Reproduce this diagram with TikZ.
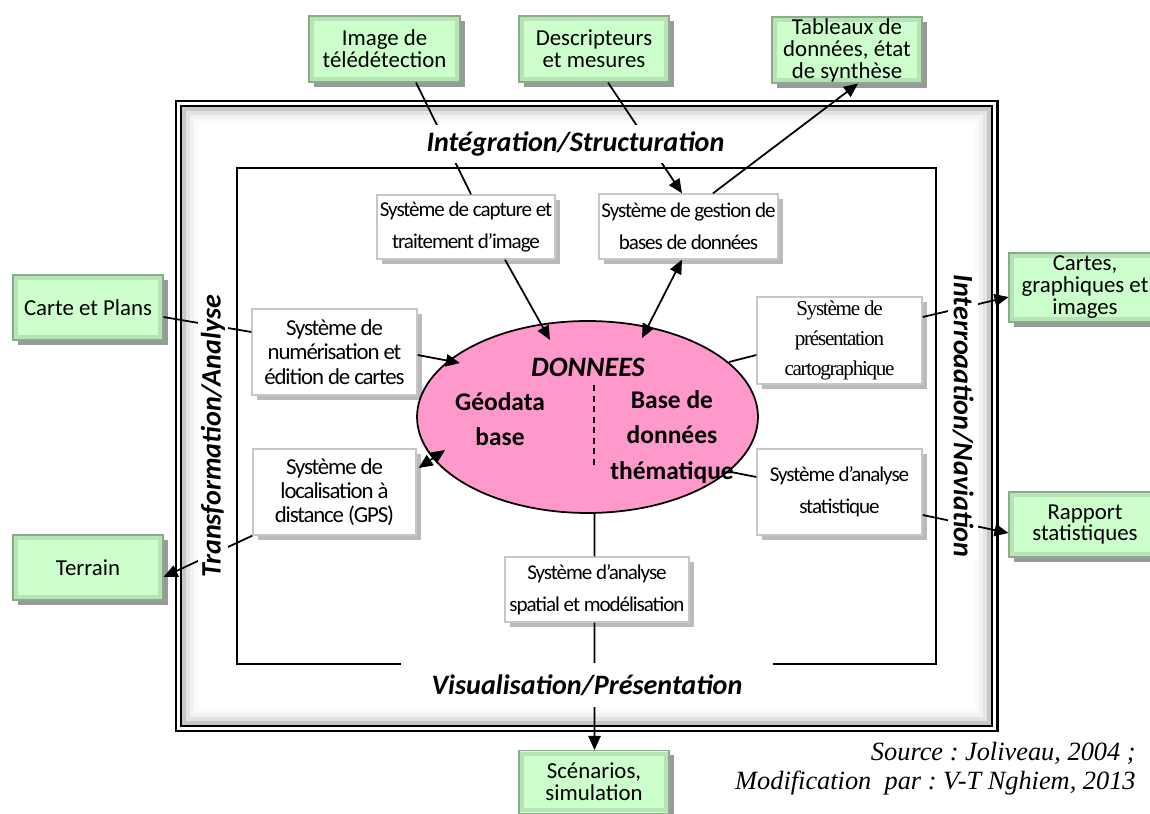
\documentclass[tikz,border=0pt]{standalone}
\usepackage{fontspec}
\setmainfont{Carlito}
\newfontfamily\condfont[LetterSpace=-5]{Carlito}
\newfontfamily\timesfont{Liberation Serif}
\newfontfamily\timescond[LetterSpace=-6]{Liberation Serif}
\usetikzlibrary{shapes.geometric,arrows.meta,shadows,calc}
\definecolor{pinkdata}{RGB}{255,153,204}
\definecolor{gface}{RGB}{204,255,204}
\definecolor{gmid}{RGB}{182,228,182}
\definecolor{gedge}{RGB}{140,170,140}
\frenchspacing

\begin{document}
\begin{tikzpicture}[x=0.02cm,y=-0.02cm,
  extbox/.style={rectangle, align=center, inner sep=0pt, fill=gface, draw=gedge, line width=0.6pt,
    font=\fontsize{13}{12.5}\selectfont,
    drop shadow={shadow xshift=2.8pt,shadow yshift=-2.8pt,fill=black!40,opacity=1},
    path picture={
      \fill[gmid] ([shift={(0.8pt,0.8pt)}]path picture bounding box.south west) rectangle ([shift={(-0.8pt,-0.8pt)}]path picture bounding box.north east);
      \fill[gface] ([shift={(3pt,3pt)}]path picture bounding box.south west) rectangle ([shift={(-3pt,-3pt)}]path picture bounding box.north east);
    }},
  sysbox/.style={rectangle, align=center, inner sep=0pt, fill=white, draw=black!22, line width=0.8pt,
    drop shadow={shadow xshift=2.8pt,shadow yshift=-2.8pt,fill=black!27,opacity=1}},
  axe/.style={fill=white, inner sep=0pt, font=\fontsize{16}{18}\selectfont\bfseries\itshape},
  lien/.style={line width=1pt},
  fleche/.style={lien, -{Triangle[length=8pt,width=7pt]}},
  bifleche/.style={lien, {Triangle[length=8pt,width=7pt]}-{Triangle[length=8pt,width=7pt]}}
]
  \useasboundingbox (0,0) rectangle (1150,814);
  \clip (0,0) rectangle (1150,814);

  % cadres
  \draw[black!22, line width=2pt] (184,109) rectangle (989,723);
  \draw[black!11, line width=2pt] (188,113) rectangle (985,719);
  \draw[black!5, line width=2pt] (192,117) rectangle (981,715);
  \draw[black!2, line width=2pt] (196,121) rectangle (977,711);
  \draw[line width=1.7pt] (176,101) rectangle (997,731);
  \draw[line width=1.1pt] (181,106) rectangle (992,726);
  \draw[line width=1pt] (237,168) rectangle (936,664);

  % sources et sorties
  \node[extbox, minimum width=3.02cm, minimum height=1.32cm] (img) at (384.5,49) {Image de\\télédétection};
  \node[extbox, minimum width=3cm, minimum height=1.32cm] (desc) at (594,49) {Descripteurs\\et mesures};
  \node[extbox, minimum width=3cm, minimum height=1.32cm] (tab) at (847,50) {Tableaux de\\données, état\\de synthèse};
  \node[extbox, minimum width=3cm, minimum height=1.3cm] (carte) at (88,307.5) {Carte et Plans};
  \node[extbox, minimum width=3cm, minimum height=1.3cm] (terrain) at (88,567.5) {Terrain};
  \node[extbox, minimum width=3.04cm, minimum height=1.38cm] (cartes) at (1085,287.5) {Cartes,\\graphiques et\\images};
  \node[extbox, minimum width=3.04cm, minimum height=1.3cm] (rapport) at (1085,524.5) {Rapport\\statistiques};
  \node[extbox, minimum width=3cm, minimum height=1.26cm] (scen) at (594,782) {Scénarios,\\simulation};

  % systemes
  \node[sysbox, minimum width=3.56cm, minimum height=1.28cm, font=\condfont\fontsize{12}{18.2}\selectfont] (cap) at (466,227) {Système de capture et\\traitement d’image};
  \node[sysbox, minimum width=3.58cm, minimum height=1.3cm, font=\condfont\fontsize{12}{18.2}\selectfont] (gest) at (688.5,226.5) {Système de gestion de\\bases de données};
  \node[sysbox, minimum width=3.3cm, minimum height=1.72cm, font=\condfont\fontsize{13}{13.8}\selectfont] (num) at (334.5,352) {Système de\\numérisation et\\édition de cartes};
  \node[sysbox, minimum width=3.26cm, minimum height=1.72cm, font=\condfont\fontsize{13}{13.6}\selectfont] (gps) at (334.5,492) {Système de\\localisation à\\distance (GPS)};
  \node[sysbox, minimum width=3.3cm, minimum height=1.74cm, font=\timescond\fontsize{12}{17}\selectfont] (pres) at (839.5,340.5) {Système de\\présentation\\cartographique};
  \node[sysbox, minimum width=3.3cm, minimum height=1.72cm, font=\condfont\fontsize{12}{18.2}\selectfont] (stat) at (839.5,492) {Système d’analyse\\statistique};
  \node[sysbox, minimum width=3.68cm, minimum height=1.3cm, font=\condfont\fontsize{12}{18.2}\selectfont] (spat) at (597,589.5) {Système d’analyse\\spatial et modélisation};

  % donnees
  \node[ellipse, draw, fill=pinkdata, line width=1pt, inner sep=0pt, minimum width=6.82cm, minimum height=3.84cm] (data) at (587.5,417) {};
  \node[font=\fontsize{16}{18}\selectfont\bfseries\itshape] (donnees) at (588,367) {DONNEES};
  \node[align=center, font=\fontsize{14.5}{20}\selectfont\bfseries] (geo) at (500,419.5) {Géodata\\base};
  \node[align=center, font=\fontsize{14.5}{20}\selectfont\bfseries] (bdt) at (672,437) {Base de\\données\\thématique};
  \draw[lien, dash pattern=on 3.5pt off 2.5pt] ($(data.center)+(6.5,-32)$) -- ($(data.center)+(6.5,51)$);

  % liens
  \draw[lien] ($(img.south)+(31.5,0)$) -- ($(cap.north)+(5,0)$);
  \draw[fleche] ($(desc.south)+(14,0)$) -- ($(gest.north)+(-6.5,0)$);
  \draw[fleche] ($(gest.north)+(24.5,0)$) -- ($(tab.south)+(11,0)$);
  \draw[fleche] ($(cap.south)+(39,0)$) -- ($(data.center)+(-37.5,-77)$);
  \draw[bifleche] ($(gest.south)+(-6.5,0)$) -- ($(data.center)+(54.5,-79)$);
  \draw[fleche] ($(num.east)+(0,3)$) -- ($(data.center)+(-127.5,-54)$);
  \draw[lien] ($(carte.east)+(0,9.5)$) -- ($(num.west)+(0,-20)$);
  \draw[bifleche] ($(gps.east)+(2,-24)$) -- ($(data.center)+(-142.5,33)$);
  \draw[fleche] (gps.south west) -- ($(terrain.east)+(0,9.5)$);
  \draw[lien] ($(data.center)+(141.5,-55)$) -- ($(pres.west)+(0,14.5)$);
  \draw[fleche] ($(pres.east)+(0,-23.5)$) -- ($(cartes.west)+(0,9.5)$);
  \draw[lien] ($(data.center)+(143.5,55)$) -- ($(stat.west)+(0,-15)$);
  \draw[fleche] ($(stat.east)+(0,23)$) -- ($(rapport.west)+(0,8.5)$);
  \draw[lien] ($(data.center)+(7,96)$) -- ($(spat.north)+(-2.5,0)$);
  \draw[fleche] ($(spat.south)+(-2.5,0)$) -- ($(scen.north)+(0.5,0)$);

  % axes
  \node[axe, minimum height=0.76cm] (integ) at (575.5,144) {Intégration/Structuration};
  \node[axe, minimum width=7.44cm, minimum height=0.9cm] (visu) at (587,685) {Visualisation/Présentation};
  \node[axe, rotate=90, minimum height=0.6cm] (transfo) at (213,436) {Transformation/Analyse};
  \node[axe, rotate=-90, minimum height=0.6cm] (interro) at (963,416) {Interroaation/Naviation};

  % source
  \node[anchor=east, inner sep=0pt, font=\timesfont\itshape\fontsize{15}{17}\selectfont] (src) at (1136,753) {Source : Joliveau, 2004 ;};
  \node[anchor=east, inner sep=0pt, font=\timesfont\itshape\fontsize{15}{17}\selectfont] (modif) at (1136,783) {Modification~ par : V-T Nghiem, 2013};
\end{tikzpicture}
\end{document}
